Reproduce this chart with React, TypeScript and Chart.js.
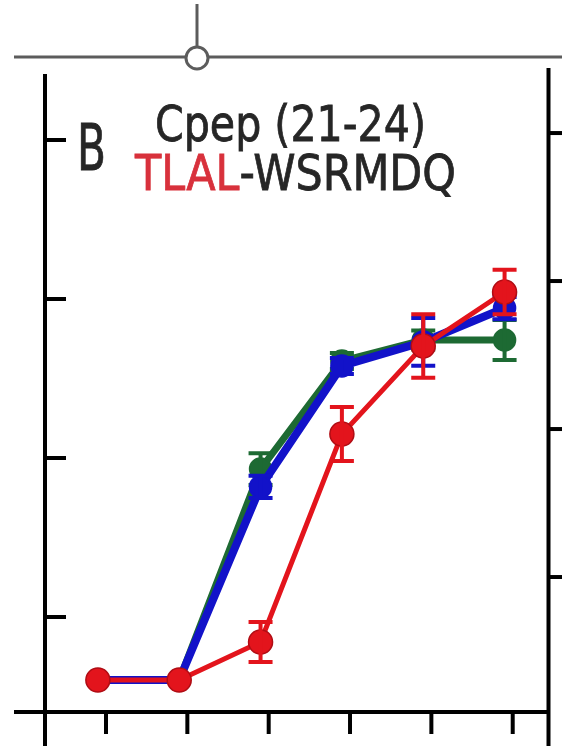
import React, { useEffect, useRef } from 'react';
import { Chart, registerables } from 'chart.js';

Chart.register(...registerables);

// ---- data ----
const categories = ['1', '2', '3', '4', '5', '6'];
const redValues = [0.604, 0.604, 0.843, 2.151, 2.704, 3.044];
const redErrors = [0, 0, 0.126, 0.17, 0.2, 0.14];
const blueValues = [0.604, 0.604, 1.818, 2.579, 2.73, 2.943];
const blueErrors = [0, 0, 0.07, 0.05, 0.15, 0.07];
const greenValues = [0.604, 0.604, 1.93, 2.61, 2.742, 2.742];
const greenErrors = [0, 0, 0.1, 0.05, 0.06, 0.126];
const yTickValues = [1, 2, 3, 4];
const y2TickValues = [1, 2, 3, 4];
const titleLine1 = 'Cpep (21-24)';
const titleRed = 'TLAL';
const titleDark = '-WSRMDQ';
const panelLetter = 'B';

// ---- styles ----
const RED = '#e3141c';
const RED_BORDER = '#b00d14';
const BLUE = '#1212c9';
const GREEN = '#1d6a33';
const TEXT_DARK = '#262626';
const TEXT_RED = '#d8313c';
const TICK_SHIFT = 0.1;
const FONT = '"DejaVu Sans", Verdana, sans-serif';

const toPoints = (vals: number[]) => categories.map((_, i) => ({ x: i + 1, y: vals[i] }));

const errorPlugin = {
  id: 'errorBars',
  afterDatasetDraw(chart: any, args: any) {
    const ds = chart.data.datasets[args.index];
    const errs: number[] = ds.errors;
    if (!errs) return;
    const { ctx } = chart;
    const y = chart.scales.y;
    const meta = args.meta;
    ctx.save();
    ctx.strokeStyle = ds.errorColor;
    ctx.lineWidth = 4;
    meta.data.forEach((pt: any, i: number) => {
      const e = errs[i];
      if (!e) return;
      const v = ds.data[i].y;
      const top = y.getPixelForValue(v + e);
      const bot = y.getPixelForValue(v - e);
      const px = pt.x;
      ctx.beginPath();
      ctx.moveTo(px, top);
      ctx.lineTo(px, bot);
      ctx.moveTo(px - 12, top);
      ctx.lineTo(px + 12, top);
      ctx.moveTo(px - 12, bot);
      ctx.lineTo(px + 12, bot);
      ctx.stroke();
    });
    ctx.restore();
  },
};

const decorPlugin = {
  id: 'decor',
  beforeDatasetsDraw(chart: any) {
    const { ctx, chartArea: ca, scales } = chart;
    const line = (x1: number, y1: number, x2: number, y2: number) => {
      ctx.beginPath();
      ctx.moveTo(x1, y1);
      ctx.lineTo(x2, y2);
      ctx.stroke();
    };
    ctx.save();
    // connector above panel
    ctx.strokeStyle = '#5c5c5c';
    ctx.lineWidth = 3;
    line(14, 57, 562, 57);
    line(197, 4, 197, 46);
    ctx.beginPath();
    ctx.arc(197, 58, 11, 0, Math.PI * 2);
    ctx.fillStyle = '#ffffff';
    ctx.fill();
    ctx.stroke();
    // axes
    ctx.strokeStyle = '#000000';
    ctx.lineWidth = 4;
    line(ca.left, ca.top, ca.left, 746);
    line(14, ca.bottom, ca.right, ca.bottom);
    line(ca.right, ca.top - 6, ca.right, 746);
    yTickValues.forEach((v) => {
      const py = scales.y.getPixelForValue(v);
      line(ca.left, py, ca.left + 21, py);
    });
    y2TickValues.forEach((v) => {
      const py = scales.y2.getPixelForValue(v);
      line(ca.right, py, ca.right + 14, py);
    });
    categories.forEach((_, i) => {
      const px = scales.x.getPixelForValue(i + 1 + TICK_SHIFT);
      line(px, ca.bottom, px, ca.bottom + 22);
    });
    ctx.restore();
  },
  afterDraw(chart: any) {
    const { ctx } = chart;
    const fit = (text: string, left: number, right: number, baseline: number, size: number, color: string) => {
      ctx.save();
      ctx.font = `${size}px ${FONT}`;
      const w = ctx.measureText(text).width;
      const sx = (right - left) / w;
      ctx.translate(left, baseline);
      ctx.scale(sx, 1);
      ctx.fillStyle = color;
      ctx.strokeStyle = color;
      ctx.lineWidth = 0.8;
      ctx.textBaseline = 'alphabetic';
      ctx.textAlign = 'left';
      ctx.fillText(text, 0, 0);
      ctx.strokeText(text, 0, 0);
      ctx.restore();
    };
    fit(panelLetter, 77, 106, 170, 64, TEXT_DARK);
    fit(titleLine1, 155, 426, 141, 49, TEXT_DARK);
    // second line, two colours
    ctx.save();
    ctx.font = `49px ${FONT}`;
    const wRed = ctx.measureText(titleRed).width;
    const wAll = ctx.measureText(titleRed + titleDark).width;
    ctx.restore();
    const left = 135;
    const right = 456;
    const sx = (right - left) / wAll;
    const split = left + wRed * sx;
    fit(titleRed, left, split, 190, 49, TEXT_RED);
    fit(titleDark, split, right, 190, 49, TEXT_DARK);
  },
};

export default function App() {
  const ref = useRef<HTMLCanvasElement | null>(null);
  useEffect(() => {
    if (!ref.current) return;
    const mk = (label: string, vals: number[], errs: number[], color: string, border: string, width: number, radius: number, order: number) => ({
      label,
      data: toPoints(vals),
      errors: errs,
      errorColor: color,
      borderColor: color,
      backgroundColor: color,
      borderWidth: width,
      pointRadius: radius,
      pointBackgroundColor: color,
      pointBorderColor: border,
      pointBorderWidth: 1.5,
      tension: 0,
      clip: false,
      order,
    });
    const chart = new Chart(ref.current, {
      type: 'line',
      data: {
        datasets: [
          mk('TLAL-WSRMDQ', redValues, redErrors, RED, RED_BORDER, 5, 12, 1),
          mk('blue', blueValues, blueErrors, BLUE, BLUE, 8, 11, 2),
          mk('green', greenValues, greenErrors, GREEN, GREEN, 7, 11, 3),
        ] as any,
      },
      options: {
        animation: false,
        responsive: false,
        layout: { padding: { left: 45, right: 12, top: 74, bottom: 34 } },
        plugins: { legend: { display: false }, tooltip: { enabled: false }, title: { display: false } },
        scales: {
          x: { type: 'linear', min: 0.35, max: 6.54, display: false },
          y: { type: 'linear', min: 0.4025, max: 4.415, display: false },
          y2: { type: 'linear', position: 'right', min: 0.088, max: 4.399, display: false },
        },
      },
      plugins: [decorPlugin, errorPlugin],
    });
    return () => chart.destroy();
  }, []);
  return (
    <div style={{ position: 'fixed', left: 0, top: 0, width: 562, height: 746, background: '#fff' }}>
      <canvas ref={ref} width={562} height={746} style={{ display: 'block' }} />
    </div>
  );
}
